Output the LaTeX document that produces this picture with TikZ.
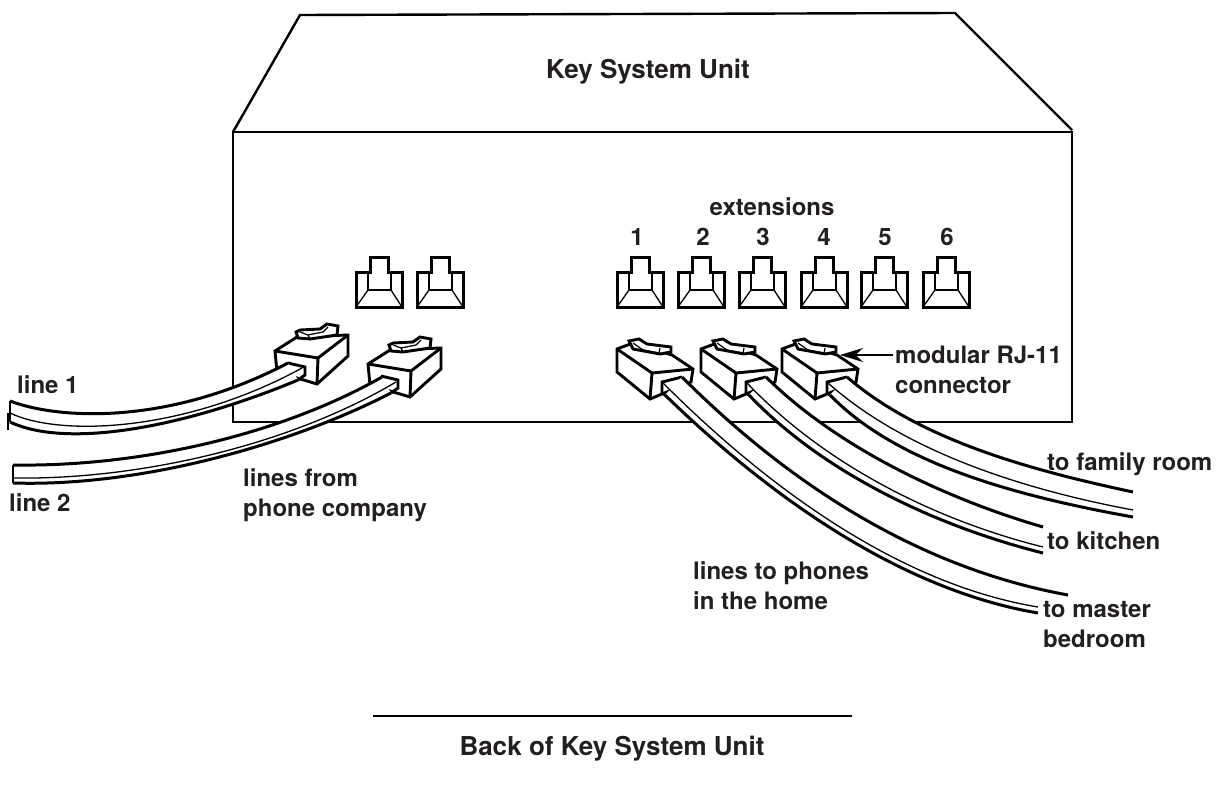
\documentclass[tikz,border=0pt]{standalone}
\usepackage{fontspec}
\setmainfont{TeX Gyre Heros}
\usepackage{xcolor}
\usetikzlibrary{arrows.meta}
\definecolor{inktext}{HTML}{231F20}

\newcommand{\drawcable}[3]{
        \fill[white] #1 -- #3 -- cycle;
        \draw[cableedge] #1;
        \draw[cablecore] #2;
        \draw[cableedge] #3;
}

\tikzset{
        boxline/.style={line width=2.4pt,line join=miter},
        plugline/.style={line width=2.9pt,line join=miter},
        cableedge/.style={line width=3pt},
        cablecore/.style={line width=1.3pt},
        label/.style={font=\fontsize{24}{30}\selectfont\bfseries,text=inktext,inner sep=0pt},
        leftlabel/.style={label,anchor=west,align=left},
        biglabel/.style={label,font=\fontsize{26}{30}\selectfont\bfseries},
        socket/.pic={
                \draw[line width=3pt,line join=miter,fill=white] (0,0)--(0,-35)--(14,-35)--(14,-50)--(32,-50)--(32,-35)--(46,-35)--(46,0)--cycle;
                \draw[line width=1.3pt] (12,-35)--(12,-17)--(35,-17)--(35,-35);
                \draw[line width=1.3pt] (0,0)--(12,-17);
                \draw[line width=1.3pt] (46,0)--(35,-17);
        },
        plugleft/.pic={
                \draw[plugline,fill=white] (0,0)--(22,-14)--(73,-16)--(73,5)--(42,33)--(2,21)--cycle;
                \draw[plugline] (0,0)--(43,7)--(42,33);
                \draw[plugline] (43,7)--(73,-16);
                \draw[plugline,fill=white] (21,-19)--(25,-21)--(45,-22)--(52,-27)--(63,-25)--(62,-16)--(35,-12)--(23,-13)--cycle;
                \draw[line width=1.2pt] (25,-19)--(33,-16)--(35,-12);
                \draw[line width=1.2pt] (33,-16)--(48,-19)--(53,-24);
                \draw[plugline] (13,12)--(30,16)--(30,24)--(23,29);
        },
        plugright/.pic={
                \draw[plugline,fill=white] (0,0)--(16,-6)--(55,6)--(76,20)--(74,33)--(33,50)--(0,23)--cycle;
                \draw[plugline] (0,0)--(35,24)--(76,20);
                \draw[plugline] (35,24)--(33,50);
                \draw[plugline,fill=white] (12,-8)--(22,-10)--(30,-5)--(54,-2)--(54,3)--(43,5)--(16,0)--cycle;
                \draw[line width=1.2pt] (16,-6)--(26,1)--(42,4)--(43,-1);
                \draw[plugline] (65,28)--(45,33)--(45,44)--(48,46);
        }
}

\begin{document}
\begin{tikzpicture}[x=1pt,y=-1pt]
        \useasboundingbox (0,0) rectangle (1228,789);

        % the unit
        \draw[boxline] (233,132)--(300,15)--(955,13)--(1072,130);
        \draw[boxline] (233,132) rectangle (1072,422);

        % sockets
        \pic at (356,307) {socket};
        \pic at (417,307) {socket};
        \foreach \x in {617,678,739,801,861,923}
                \pic at (\x,307) {socket};

        % plugs
        \pic at (275,351) {plugleft};
        \pic at (368,364) {plugleft};
        \pic at (617,349) {plugright};
        \pic at (701,349) {plugright};
        \pic at (782,349) {plugright};

        % line 1 and line 2
        \drawcable{(10,401) .. controls (60,420) and (170,425) .. (288,363)}
                {(10,413) .. controls (60,437) and (185,432) .. (302,368)}
                {(298,380) .. controls (190,425) and (70,450) .. (10,422)}
        \draw[boxline] (10,401)--(10,422);
        \draw[boxline] (8,413)--(8,430);
        \drawcable{(13,465) .. controls (140,467) and (280,435) .. (382,377)}
                {(13,478) .. controls (140,480) and (290,445) .. (396,382)}
                {(391,393) .. controls (290,445) and (140,487) .. (13,483)}
        \draw[boxline] (13,465)--(13,483);

        % extensions 1, 2 and 3 are in use
        \drawcable{(682,377) .. controls (800,495) and (930,570) .. (1068,595)}
                {(663,383) .. controls (775,495) and (905,585) .. (1038,607)}
                {(1038,613) .. controls (903,590) and (773,500) .. (665,395)}
        \drawcable{(766,377) .. controls (840,450) and (950,500) .. (1043,527)}
                {(747,383) .. controls (825,465) and (935,520) .. (1043,547)}
                {(1043,553) .. controls (935,526) and (822,472) .. (749,395)}
        \drawcable{(847,377) .. controls (920,440) and (1030,470) .. (1133,492)}
                {(828,383) .. controls (900,447) and (1010,487) .. (1133,510)}
                {(1133,517) .. controls (1010,495) and (895,462) .. (830,395)}

        % labels
        \node[biglabel] (unit) at (648,72) {Key System Unit};
        \node[label] (ext) at (772,207) {extensions};
        \node[label] (e1) at (637,237) {1};
        \node[label] (e2) at (703,237) {2};
        \node[label] (e3) at (763,237) {3};
        \node[label] (e4) at (824,237) {4};
        \node[label] (e5) at (885,237) {5};
        \node[label] (e6) at (947,237) {6};
        \node[leftlabel] (lineone) at (17,385) {line 1};
        \node[leftlabel] (linetwo) at (9,503) {line 2};
        \node[leftlabel] (company) at (243,495) {lines from\\phone company};
        \node[leftlabel] (modular) at (895,370) {modular RJ-11\\connector};
        \node[leftlabel] (family) at (1047,464) {to family room};
        \node[leftlabel] (kitchen) at (1047,541) {to kitchen};
        \node[leftlabel] (home) at (693,586) {lines to phones\\in the home};
        \node[leftlabel] (master) at (1043,625) {to master\\bedroom};
        \node[biglabel] (title) at (612,749) {Back of Key System Unit};

        % arrow and rule
        \coordinate (plughead) at (840,355);
        \draw[-{Stealth[length=23pt,width=14pt]},line width=2.2pt] (893,355)--(plughead);
        \coordinate (ruleleft) at (373,716);
        \coordinate (ruleright) at (852,716);
        \draw[line width=2.6pt] (ruleleft)--(ruleright);
\end{tikzpicture}
\end{document}
